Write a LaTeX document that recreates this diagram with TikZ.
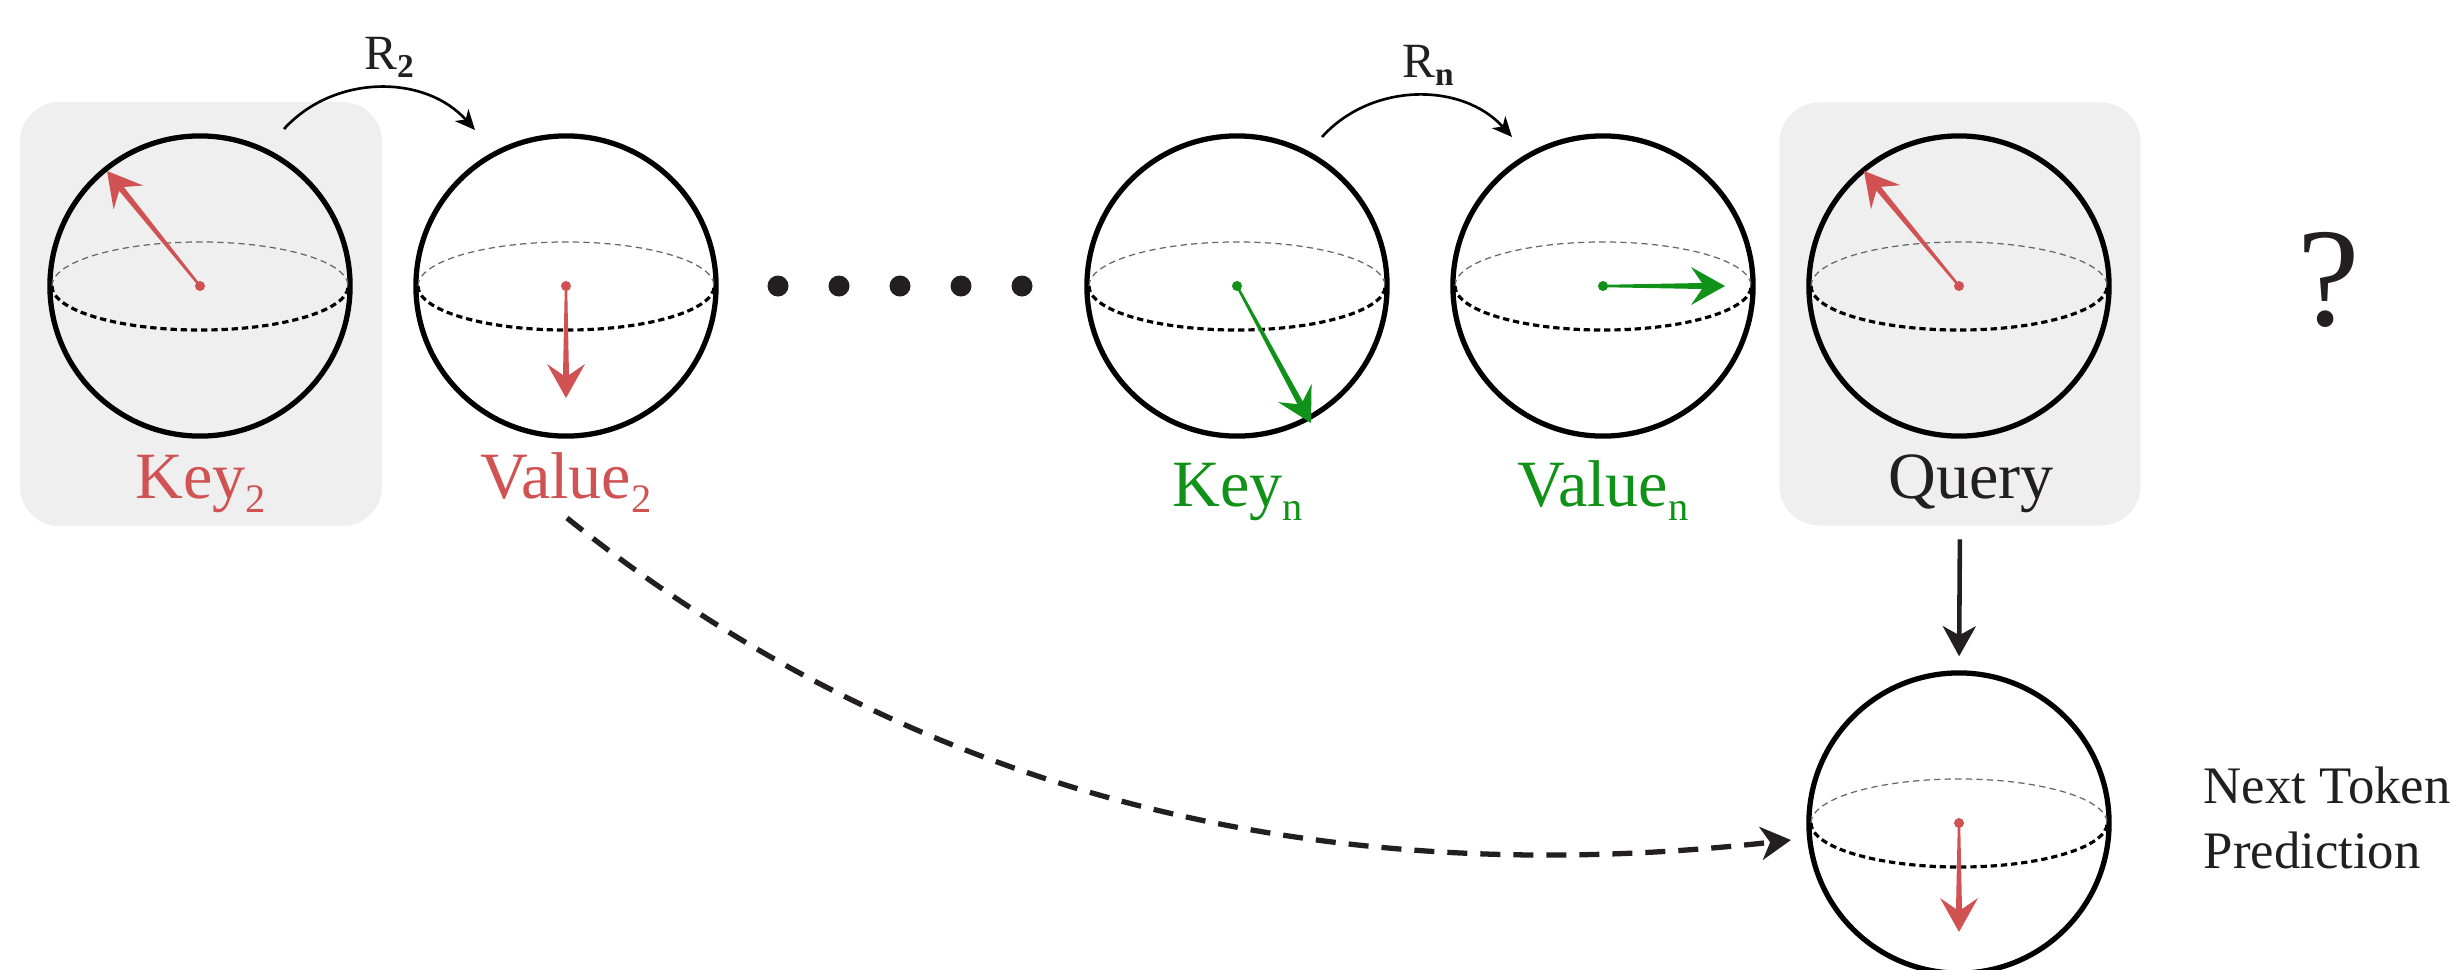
\documentclass[tikz,border=0pt]{standalone}
\usepackage{fontspec}
\setmainfont{Liberation Serif}
\usetikzlibrary{arrows.meta,calc}
\definecolor{vred}{RGB}{208,82,82}
\definecolor{vgreen}{RGB}{16,145,24}
\definecolor{ink}{RGB}{35,31,32}
\definecolor{boxgray}{RGB}{239,239,239}
\newcommand{\sbs}[1]{\raisebox{-4pt}{\fontsize{11.5}{11.5}\selectfont #1}}
\newcommand{\rsbs}[1]{\raisebox{-2.4pt}{\fontsize{9.5}{9.5}\selectfont\bfseries #1}}
\newcommand{\vecarrow}[3]{%
  \fill[#3] (#1) circle[radius=0.05cm];
  \coordinate (vh) at ($(#2)!0.23cm!(#1)$);
  \coordinate (vw) at ($(#2)!0.34cm!(#1)$);
  \fill[#3] ($(#1)!0.012cm!90:(#2)$) -- ($(vh)!0.03cm!90:(#2)$) -- ($(vw)!0.19cm!90:(#2)$) -- (#2)
    -- ($(vw)!0.19cm!-90:(#2)$) -- ($(vh)!0.03cm!-90:(#2)$) -- ($(#1)!0.012cm!-90:(#2)$) -- cycle;
}
\newcommand{\equator}[1]{%
  \draw[eqback] ($(#1)+(-148,0)$) arc[start angle=180,end angle=0,x radius=1.48cm,y radius=0.44cm];
  \draw[eqfront] ($(#1)+(-148,0)$) arc[start angle=180,end angle=360,x radius=1.48cm,y radius=0.44cm];
}
\tikzset{
  sphere/.style={circle, draw=black, line width=1.5pt, minimum size=3.0cm, inner sep=0pt},
  graybox/.style={fill=boxgray, rounded corners=0.4cm, inner sep=0pt},
  eqback/.style={draw=black!60, line width=0.35pt, dash pattern=on 1.8pt off 1.2pt},
  eqfront/.style={draw=black, line width=0.9pt, dash pattern=on 1.8pt off 1.1pt},
  lab/.style={font=\fontsize{18.8}{22}\selectfont, anchor=base, inner sep=0pt},
  rlab/.style={font=\fontsize{14}{17}\selectfont, text=ink, anchor=base, inner sep=0pt},
  bigtip/.tip={Stealth[length=0.3cm,width=0.33cm,inset=0.09cm]},
  smalltip/.tip={Stealth[length=0.2cm,width=0.18cm,inset=0.06cm]},
  rarrow/.style={draw=black, line width=0.75pt, -{smalltip}},
  conn/.style={draw=ink, line width=1.3pt, -{bigtip}},
  dconn/.style={draw=ink, line width=1.5pt, dash pattern=on 0.2cm off 0.13cm, -{bigtip}},
  dotn/.style={circle, fill=ink, inner sep=0pt, minimum size=0.21cm},
  ntp/.style={font=\fontsize{15}{18}\selectfont, text=ink, anchor=base west, inner sep=0pt},
}
\begin{document}
\begin{tikzpicture}[x=0.01cm,y=-0.01cm]
\useasboundingbox (0,0) rectangle (2453,969);
\clip (0,0) rectangle (2453,969);

% gray boxes
\node[graybox, minimum width=3.62cm, minimum height=4.24cm] (k2box) at (201,314) {};
\node[graybox, minimum width=3.61cm, minimum height=4.23cm] (qbox) at (1960,314) {};

% spheres
\node[sphere] (s1) at (200,286) {};
\node[sphere] (s2) at (566,286) {};
\node[sphere] (s3) at (1237,286) {};
\node[sphere] (s4) at (1603,286) {};
\node[sphere] (s5) at (1959,286) {};
\node[sphere] (s6) at (1959,823) {};
\equator{s1.center}
\equator{s2.center}
\equator{s3.center}
\equator{s4.center}
\equator{s5.center}
\equator{s6.center}

% vectors
\coordinate (t1) at (107,171);
\coordinate (t2) at (566,398);
\coordinate (t3) at (1311,423);
\coordinate (t4) at (1725,286);
\coordinate (t5) at (1864,171);
\coordinate (t6) at (1959,932);
\vecarrow{s1.center}{t1}{vred}
\vecarrow{s2.center}{t2}{vred}
\vecarrow{s3.center}{t3}{vgreen}
\vecarrow{s4.center}{t4}{vgreen}
\vecarrow{s5.center}{t5}{vred}
\vecarrow{s6.center}{t6}{vred}

% dots
\node[dotn] (d1) at (778,286) {};
\node[dotn] (d2) at (839,286) {};
\node[dotn] (d3) at (900,286) {};
\node[dotn] (d4) at (961,286) {};
\node[dotn] (d5) at (1022,286) {};

% labels
\node[lab, text=vred] (k2lab) at (201,498) {Key\sbs{2}};
\node[lab, text=vred] (v2lab) at (566,498) {Value\sbs{2}};
\node[lab, text=vgreen] (knlab) at (1238,506) {Key\sbs{n}};
\node[lab, text=vgreen] (vnlab) at (1603,506) {Value\sbs{n}};
\node[lab, text=ink] (qlab) at (1971,498) {Query};

% R arrows
\node[rlab] (r2lab) at (389,69) {R\rsbs{2}};
\node[rlab] (rnlab) at (1428,77) {R\rsbs{n}};
\coordinate (r2s) at (284,129);
\coordinate (r2e) at (475,130);
\coordinate (rns) at (1322,137);
\coordinate (rne) at (1512,137);
\draw[rarrow] (r2s) to[bend left=48] (r2e);
\draw[rarrow] (rns) to[bend left=48] (rne);

% question mark
\node[font=\fontsize{40}{48}\selectfont, text=ink, inner sep=0pt] (qm) at (2329,280) {?};

% query -> prediction
\draw[conn, shorten <=0.13cm, shorten >=0.14cm] (qbox.south) -- (s6.north);

% dashed value -> prediction
\coordinate (dst) at (567,518);
\coordinate (den) at (1791,840);
\draw[dconn] (dst) .. controls (900,785) and (1300,895) .. (den);

% prediction label
\node[ntp] (ntpa) at (2203,803) {Next Token};
\node[ntp] (ntpb) at (2203,868) {Prediction};
\end{tikzpicture}
\end{document}
